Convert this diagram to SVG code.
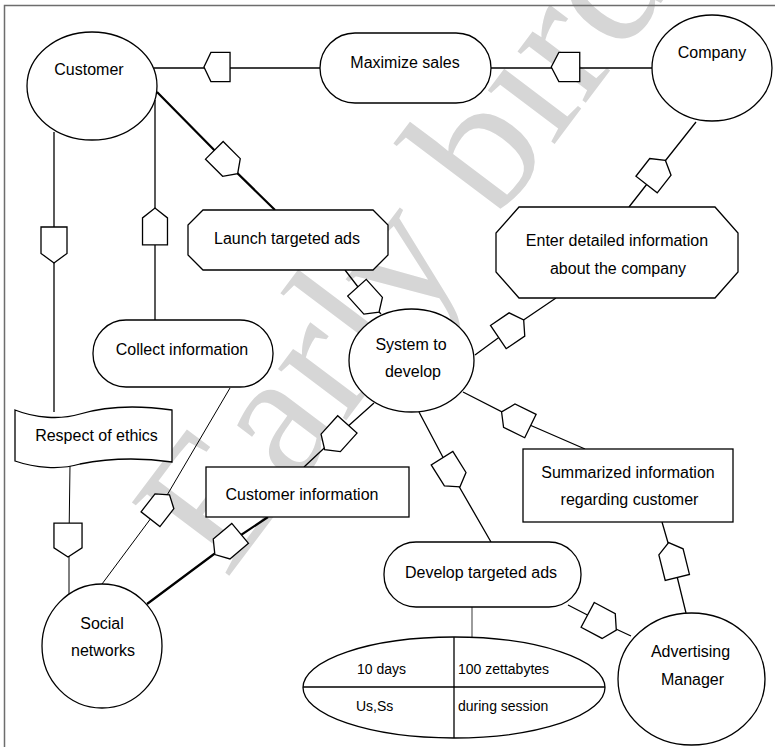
<svg xmlns="http://www.w3.org/2000/svg" xmlns:xlink="http://www.w3.org/1999/xlink" width="775" height="747" viewBox="0 0 775 747">
  <defs>
    <style>
      .shape { fill: #fff; stroke: #000; stroke-width: 1.3; }
      .conn { fill: none; stroke: #000; stroke-width: 1.3; }
      .thick { stroke-width: 2.2; }
      .thin { stroke-width: 1; }
      .grey { stroke: #666; }
      .mark { fill: #fff; stroke: #000; stroke-width: 1.3; }
      .label { font-family: "Liberation Sans", Arial, sans-serif; font-size: 16px; fill: #000; text-anchor: middle; }
      .cell { font-family: "Liberation Sans", Arial, sans-serif; font-size: 14px; fill: #000; }
      .wm { font-family: "Liberation Serif", "Times New Roman", serif; font-size: 186px; fill: #d6d6d6; }
    </style>
    <!-- flow marker: a pentagon whose point lies on +x -->
    <path id="pent" d="M-15,-13 H7 L15,0 L7,13 H-15 Z" vector-effect="non-scaling-stroke"/>
  </defs>

  <rect width="775" height="747" fill="#fff"/>

  <!-- watermark -->
  <text class="wm" transform="translate(226,580) rotate(-53)">Early bird</text>

  <!-- frame -->
  <path d="M4.5,747 V5.5 H775" fill="none" stroke="#6d6d6d" stroke-width="1.5"/>

  <g id="connectors">
    <polyline class="conn" points="154,68 320,68"/>
    <polyline class="conn" points="491,68 652,68"/>
    <polyline class="conn thick" points="157,92 226,162 275,210"/>
    <polyline class="conn" points="155,100 155,320"/>
    <polyline class="conn" points="54,132 54,412"/>
    <polyline class="conn" points="696,122 656,172.5 629,207"/>
    <polyline class="conn" points="345,270 368,300 381,314"/>
    <polyline class="conn" points="475,355 511,328.5 556,298"/>
    <polyline class="conn" points="374,403 336,437 304,467"/>
    <polyline class="conn" points="463,392 516,419 585,449"/>
    <polyline class="conn" points="419,412 451,472.5 491,542"/>
    <polyline class="conn" points="568,605 602,622.5 631,636"/>
    <polyline class="conn" points="662,522 673,560 686,613"/>
    <polyline class="conn thin" points="230,388 163,502 102,584"/>
    <polyline class="conn thick" points="268,517 227.5,544 147,604"/>
    <polyline class="conn thin" points="70,465 69,540 69,595"/>
    <line class="conn grey" x1="472" y1="607" x2="472" y2="638"/>

    <use xlink:href="#pent" class="mark" transform="translate(217,67) rotate(180) scale(0.87,1.12)"/>
    <use xlink:href="#pent" class="mark" transform="translate(565.5,67) rotate(180) scale(0.95,1.12)"/>
    <use xlink:href="#pent" class="mark" transform="translate(226,162) rotate(45) scale(1.1,0.96)"/>
    <use xlink:href="#pent" class="mark" transform="translate(155,226.5) rotate(-90) scale(1.23,0.96)"/>
    <use xlink:href="#pent" class="mark" transform="translate(54,245) rotate(90) scale(1.2,1)"/>
    <use xlink:href="#pent" class="mark" transform="translate(656,172.5) rotate(-52) scale(1.02,1.04)"/>
    <use xlink:href="#pent" class="mark" transform="translate(368,300) rotate(48) scale(1.1,0.96)"/>
    <use xlink:href="#pent" class="mark" transform="translate(511,328.5) rotate(-34) scale(1.02,1.08)"/>
    <use xlink:href="#pent" class="mark" transform="translate(336,437) rotate(132) scale(1.13,1)"/>
    <use xlink:href="#pent" class="mark" transform="translate(516,419) rotate(206) scale(1.07,1)"/>
    <use xlink:href="#pent" class="mark" transform="translate(451,472.5) rotate(58) scale(1.13,0.98)"/>
    <use xlink:href="#pent" class="mark" transform="translate(602,622.5) rotate(28) scale(1.08,1.08)"/>
    <use xlink:href="#pent" class="mark" transform="translate(673,560) rotate(-104) scale(1.2,0.96)"/>
    <use xlink:href="#pent" class="mark" transform="translate(160,507) rotate(-52) scale(1.03,0.92)"/>
    <use xlink:href="#pent" class="mark" transform="translate(227.5,544) rotate(140) scale(1.1,1)"/>
    <use xlink:href="#pent" class="mark" transform="translate(68,540) rotate(90) scale(1.13,1.08)"/>
  </g>

  <g id="customer">
    <ellipse class="shape" cx="92" cy="86" rx="65" ry="54"/>
    <text class="label" x="89" y="75">Customer</text>
  </g>

  <g id="maximize-sales">
    <rect class="shape" x="320" y="33" width="171" height="70" rx="35"/>
    <text class="label" x="405" y="68">Maximize sales</text>
  </g>

  <g id="company">
    <ellipse class="shape" cx="712" cy="68" rx="60" ry="53"/>
    <text class="label" x="712" y="58">Company</text>
  </g>

  <g id="launch-targeted-ads">
    <polygon class="shape" points="203,210 373,210 388,225 388,255 373,270 203,270 188,255 188,225"/>
    <text class="label" x="287" y="244">Launch targeted ads</text>
  </g>

  <g id="enter-company-info">
    <polygon class="shape" points="519,207 715,207 738,233 738,272 715,298 519,298 496,272 496,233"/>
    <text class="label" x="617" y="245.5">Enter detailed information</text>
    <text class="label" x="618" y="274">about the company</text>
  </g>

  <g id="collect-information">
    <rect class="shape" x="93" y="320" width="180" height="67" rx="33"/>
    <text class="label" x="182" y="355">Collect information</text>
  </g>

  <g id="system-to-develop">
    <ellipse class="shape" cx="411.5" cy="360.5" rx="62.5" ry="51.5"/>
    <text class="label" x="411" y="350">System to</text>
    <text class="label" x="413" y="377">develop</text>
  </g>

  <g id="respect-of-ethics">
    <path class="shape" d="M15,410 C35,418 60,420 80,414 C100,408 130,404 172,410 L172,462 C130,456 100,460 80,464 C60,470 35,468 15,461 Z"/>
    <text class="label" x="96.5" y="440.5">Respect of ethics</text>
  </g>

  <g id="customer-information">
    <rect class="shape" x="206" y="467" width="203" height="50"/>
    <text class="label" x="302" y="500">Customer information</text>
  </g>

  <g id="summarized-information">
    <rect class="shape" x="523" y="449" width="210" height="73"/>
    <text class="label" x="628" y="477.5">Summarized information</text>
    <text class="label" x="629.5" y="504.5">regarding customer</text>
  </g>

  <g id="develop-targeted-ads">
    <rect class="shape" x="384" y="542" width="197" height="65" rx="32"/>
    <text class="label" x="481" y="577.5">Develop targeted ads</text>
  </g>

  <g id="social-networks">
    <ellipse class="shape" cx="102" cy="646" rx="60" ry="62"/>
    <text class="label" x="102" y="628.5">Social</text>
    <text class="label" x="103" y="656">networks</text>
  </g>

  <g id="advertising-manager">
    <ellipse class="shape" cx="691.5" cy="679" rx="73.5" ry="66"/>
    <text class="label" x="690.5" y="657">Advertising</text>
    <text class="label" x="692.5" y="685">Manager</text>
  </g>

  <g id="ad-parameters">
    <ellipse class="shape" cx="454" cy="687.5" rx="151" ry="50.5"/>
    <line class="conn" x1="303" y1="687" x2="605" y2="687"/>
    <line class="conn" x1="454" y1="637" x2="454" y2="738"/>
    <text class="cell" x="357" y="674">10 days</text>
    <text class="cell" x="458" y="674">100 zettabytes</text>
    <text class="cell" x="356" y="711">Us,Ss</text>
    <text class="cell" x="458" y="711">during session</text>
  </g>
</svg>
